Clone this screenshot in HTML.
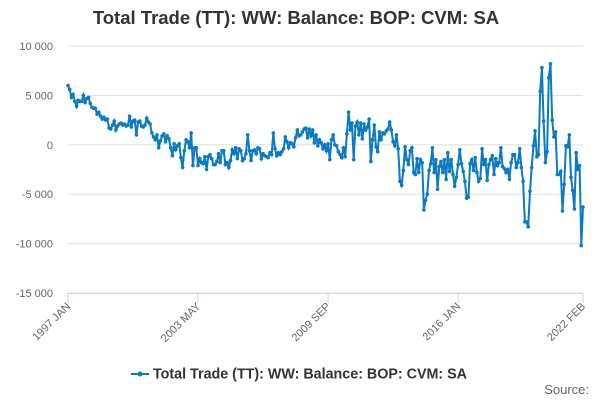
<!DOCTYPE html>
<html><head><meta charset="utf-8"><style>
body{margin:0;width:600px;height:400px;background:#fff;font-family:"Liberation Sans",sans-serif;overflow:hidden}
</style></head><body>
<svg width="600" height="400">
<text x="296" y="24" text-anchor="middle" font-size="18.5" font-weight="bold" fill="#333">Total Trade (TT): WW: Balance: BOP: CVM: SA</text>
<g id="grid"></g><g id="yl"></g><g id="xl"></g>
<path id="line" fill="none" stroke="#0a7bc2" stroke-width="2"></path>
<g id="pts"></g>
<g>
<line x1="131" y1="374" x2="149" y2="374" stroke="#0a7bc2" stroke-width="2"/><circle cx="140" cy="374" r="2.5" fill="#0a7bc2"/>
<text x="153" y="378.5" font-size="14.3" font-weight="bold" fill="#333">Total Trade (TT): WW: Balance: BOP: CVM: SA</text></g>
<text x="589" y="394" text-anchor="end" font-size="13" fill="#666">Source:</text>
</svg>
<script>
const yTicks=[10000,5000,0,-5000,-10000,-15000];
const yTickLabels=["10 000","5 000","0","-5 000","-10 000","-15 000"];
const xTickLabels=["1997 JAN","2003 MAY","2009 SEP","2016 JAN","2022 FEB"];
const xTickIndex=[0,76,152,228,301];
const values=[
6000,5600,4800,5100,4400,3900,4500,4400,4400,5000,4300,4700,
4800,4200,3800,3700,3700,3100,3300,2900,2600,2800,2500,2600,
1700,1600,2000,2400,1500,1900,2100,2200,2000,2100,1900,2000,
2900,1800,2400,2500,1000,2300,2400,1900,1800,2000,2700,2300,
2100,1200,800,500,1000,-300,400,900,1100,300,900,600,
-300,-1100,100,-500,-100,100,-1300,-2300,-600,500,300,-300,
1200,-2100,-300,-300,-2100,-1400,-1800,-1900,-1200,-2500,-1200,-1000,
-1400,-2000,-2000,-1700,-900,-1800,-600,-600,-2000,-1800,-2300,-1600,
-500,-900,-300,-1400,-400,-600,-1600,-1400,-900,1000,-600,-1600,
-600,-500,-900,-300,-400,-1400,-900,-1100,-1200,-1300,-800,-1000,
1200,-400,-1100,-800,-1000,-700,-400,800,300,-300,200,100,
-200,700,1500,900,1000,1300,1600,1700,700,1600,900,1500,
200,1000,-100,500,200,-400,0,-600,100,-1500,500,1000,
0,-100,-700,-1000,-1300,-300,-1200,1100,3300,1500,2200,-1500,
1900,2300,1000,2200,600,2100,1500,1800,2600,-1700,500,2000,
-200,-700,1300,500,1200,1100,1400,1600,2300,1500,300,-100,
1000,-400,-3700,-4100,-2600,-200,-1500,-2000,-600,-300,-2800,-3000,
-1400,-2800,-1500,-1800,-6600,-5600,-5000,-2600,-1900,-300,-2800,-1500,
-4500,-2200,-1700,-2800,-1500,-3500,-800,-2700,-1500,-3000,-4200,-3300,
-2000,-500,-1900,-2700,-3700,-5400,-5300,-1900,-1500,-2600,-1300,-2800,
-3700,-3400,-400,-2000,-1500,-3600,-2000,-1500,-1100,-3000,-1400,-2100,
-1800,-300,-2200,-2400,-2800,-2500,-3500,-1800,-1000,-1000,-2300,-1800,
-400,-2300,-3700,-7800,-7800,-8300,-4700,-2300,-100,1400,-1200,-1000,
5400,7800,2400,-1800,-700,6800,8200,2500,800,1300,-3000,-3000,
-2700,-6700,-4000,-100,-200,1000,-3300,-4600,-6500,-800,-2500,-2100,
-10200,-6300];
const X0=68,X1=583,Y0=46,Y1=293;
const xs=i=>X0+(X1-X0)*i/(values.length-1);
const ys=v=>Y0+(10000-v)/25000*(Y1-Y0);
const NS="http://www.w3.org/2000/svg";
const mk=(t,a,p)=>{const e=document.createElementNS(NS,t);for(const k in a)e.setAttribute(k,a[k]);p.appendChild(e);return e;};
const g=document.getElementById('grid'),yl=document.getElementById('yl'),xl=document.getElementById('xl');
yTicks.forEach((v,i)=>{
 const l=mk('line',{x1:X0,x2:X1,y1:ys(v),y2:ys(v),stroke:'#e0e0e0','stroke-width':1},g);
 
 
 const t=mk('text',{x:53,y:ys(v)+4,'text-anchor':'end','font-size':11,fill:'#666'},yl);
 t.textContent=yTickLabels[i];
 
 
});
const ax=mk('line',{x1:X0,x2:X1,y1:Y1+0.5,y2:Y1+0.5,stroke:'#ccd6eb'},g);


xTickIndex.forEach((idx,i)=>{
 const x=xs(idx);
 const tk=mk('line',{x1:x,x2:x,y1:Y1,y2:Y1+10,stroke:'#ccd6eb'},g);
 
 
 const t=mk('text',{x:x+3,y:Y1+14,'text-anchor':'end','font-size':11,fill:'#666',transform:`rotate(-45 ${x+3} ${Y1+14})`},xl);
 t.textContent=xTickLabels[i];
 
 
});
let d='';const pts=document.getElementById('pts');
values.forEach((v,i)=>{
 d+=(i?'L':'M')+xs(i).toFixed(1)+','+ys(v).toFixed(1);
 const c=mk('circle',{cx:xs(i),cy:ys(v),r:1.8,fill:'#0a7bc2'},pts);
 
 
});
document.getElementById('line').setAttribute('d',d);
</script>
</body></html>
